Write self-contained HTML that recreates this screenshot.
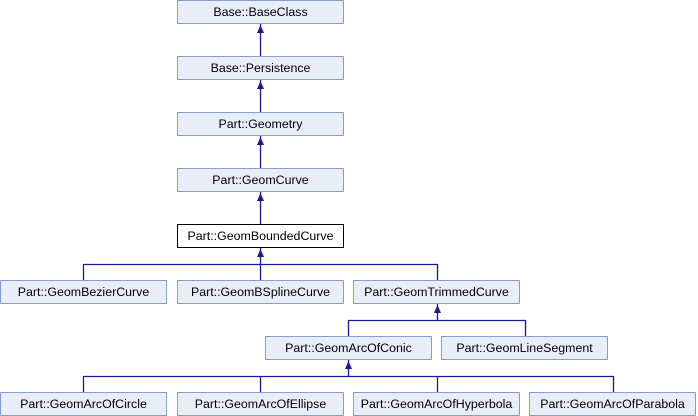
<!DOCTYPE html>
<html><head><meta charset="utf-8"><style>
html,body{margin:0;padding:0;background:#fff;width:698px;height:416px;overflow:hidden}
svg text{font-family:"Liberation Sans",Arial,sans-serif;font-size:12.4px}
</style></head><body>
<svg width="698" height="416" xmlns="http://www.w3.org/2000/svg">
<g fill="none" stroke="#1a1a99" stroke-width="1.3">
<line x1="260.5" y1="24" x2="260.5" y2="56"/>
<line x1="260.5" y1="80" x2="260.5" y2="112"/>
<line x1="260.5" y1="136" x2="260.5" y2="168"/>
<line x1="260.5" y1="192" x2="260.5" y2="224"/>
<polyline points="83.5,280 83.5,264.5 437.5,264.5 437.5,280"/>
<line x1="260.5" y1="248" x2="260.5" y2="280"/>
<polyline points="348.5,336 348.5,320.5 525.5,320.5 525.5,336"/>
<line x1="437.5" y1="304" x2="437.5" y2="320"/>
<polyline points="83.5,392 83.5,376.5 613.5,376.5 613.5,392"/>
<line x1="260.5" y1="376" x2="260.5" y2="392"/>
<line x1="437.5" y1="376" x2="437.5" y2="392"/>
<line x1="348.5" y1="360" x2="348.5" y2="376"/>
</g>
<g fill="#1a1a99">
<polygon points="260.5,25 257,33 264,33"/>
<polygon points="260.5,81 257,89 264,89"/>
<polygon points="260.5,137 257,145 264,145"/>
<polygon points="260.5,193 257,201 264,201"/>
<polygon points="260.5,249 257,257 264,257"/>
<polygon points="437.5,305 434,313 441,313"/>
<polygon points="348.5,361 345,369 352,369"/>
</g>
<g stroke="#84a0cf" fill="#e8edf7" stroke-width="1">
<rect x="177.5" y="0.5" width="166" height="23"/>
<rect x="177.5" y="56.5" width="166" height="23"/>
<rect x="177.5" y="112.5" width="166" height="23"/>
<rect x="177.5" y="168.5" width="166" height="23"/>
<rect x="0.5" y="280.5" width="166" height="23"/>
<rect x="177.5" y="280.5" width="166" height="23"/>
<rect x="353.5" y="280.5" width="166" height="23"/>
<rect x="265.5" y="336.5" width="166" height="23"/>
<rect x="441.5" y="336.5" width="166" height="23"/>
<rect x="0.5" y="392.5" width="166" height="23"/>
<rect x="177.5" y="392.5" width="166" height="23"/>
<rect x="353.5" y="392.5" width="166" height="23"/>
<rect x="529.5" y="392.5" width="166" height="23"/>
</g>
<rect x="177.5" y="224.5" width="166" height="23" fill="#fff" stroke="#000"/>
<g fill="#000" text-anchor="middle">
<text x="260.5" y="16">Base::BaseClass</text>
<text x="260.5" y="72">Base::Persistence</text>
<text x="260.5" y="128">Part::Geometry</text>
<text x="260.5" y="184">Part::GeomCurve</text>
<text x="260.5" y="240">Part::GeomBoundedCurve</text>
<text x="83.5" y="296">Part::GeomBezierCurve</text>
<text x="260.5" y="296">Part::GeomBSplineCurve</text>
<text x="436.5" y="296">Part::GeomTrimmedCurve</text>
<text x="348.5" y="352">Part::GeomArcOfConic</text>
<text x="524.5" y="352">Part::GeomLineSegment</text>
<text x="83.5" y="408">Part::GeomArcOfCircle</text>
<text x="260.5" y="408">Part::GeomArcOfEllipse</text>
<text x="436.5" y="408">Part::GeomArcOfHyperbola</text>
<text x="612.5" y="408">Part::GeomArcOfParabola</text>
</g>
</svg>
</body></html>
